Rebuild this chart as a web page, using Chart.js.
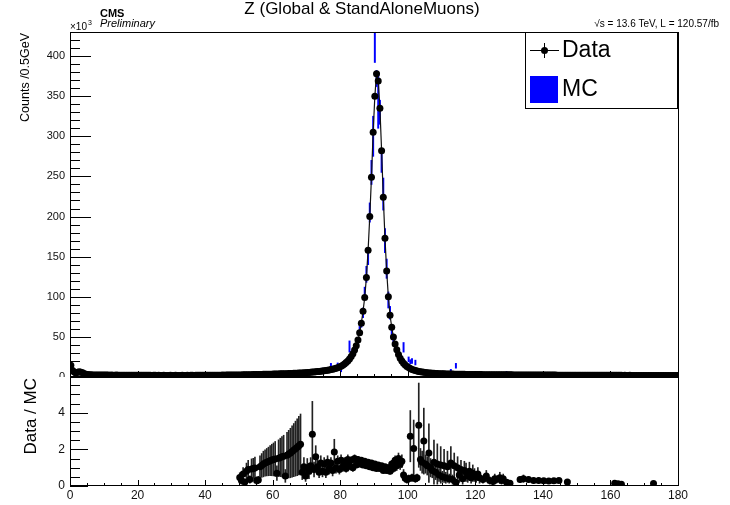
<!DOCTYPE html>
<html>
<head>
  <meta charset="UTF-8" />
  <title>Z (Global &amp; StandAloneMuons)</title>
  <script src="https://cdn.jsdelivr.net/npm/chart.js"></script>
  <style>
    body {
      margin: 0;
      background: #fff;
    }

    #wrap {
      position: relative;
      width: 730px;
      height: 505px;
      overflow: hidden;
    }

    canvas {
      position: absolute;
      left: 0;
    }

    #top { top: 0; }
    #bot { top: 377px; background: #fff; }
  </style>
</head>
<body>

  <div id="wrap">
    <canvas id="top" width="730" height="380"></canvas>
    <canvas id="bot" width="730" height="128"></canvas>
  </div>

  <script>
    // dimuon invariant mass, 0.5 GeV bins from 0 to 180, counts in 10^3
    const binWidth = 0.5;
    const counts = [
      14.5, 8.0, 6.2, 5.0, 5.8, 6.5, 6.0, 5.4, 4.0, 3.4, 3.0, 2.8, 2.7, 2.6, 2.6, 2.5, 2.5, 2.5, 2.4, 2.4,
      2.4, 2.5, 2.4, 2.3, 2.4, 2.3, 2.3, 2.4, 2.3, 2.3, 2.2, 2.3, 2.2, 2.2, 2.3, 2.2, 2.2, 2.1, 2.2, 2.2,
      2.2, 2.1, 2.2, 2.1, 2.1, 2.2, 2.1, 2.1, 2.0, 2.1, 2.1, 2.0, 2.1, 2.0, 2.0, 2.1, 2.0, 2.0, 2.0, 2.1,
      2.0, 2.0, 2.1, 2.0, 2.0, 2.0, 2.1, 2.0, 2.0, 2.1, 2.0, 2.1, 2.1, 2.0, 2.1, 2.1, 2.1, 2.2, 2.1, 2.1,
      2.2, 2.1, 2.2, 2.2, 2.2, 2.3, 2.2, 2.3, 2.3, 2.3, 2.4, 2.3, 2.4, 2.4, 2.5, 2.4, 2.5, 2.5, 2.6, 2.6,
      2.6, 2.6, 2.7, 2.7, 2.8, 2.8, 2.9, 2.9, 3.0, 3.0, 3.1, 3.1, 3.2, 3.2, 3.3, 3.3, 3.4, 3.4, 3.5, 3.5,
      3.6, 3.7, 3.7, 3.8, 3.9, 4.0, 4.0, 4.1, 4.2, 4.3, 4.4, 4.5, 4.6, 4.7, 4.8, 4.9, 5.0, 5.1, 5.3, 5.4,
      5.6, 5.7, 5.9, 6.1, 6.3, 6.5, 6.7, 6.9, 7.2, 7.5, 7.8, 8.1, 8.4, 8.8, 9.2, 9.7, 10.2, 10.8, 11.5, 12.4,
      13.5, 14.8, 16.3, 18.0, 20.0, 22.5, 25.5, 29.0, 33.5, 39.0, 46.0, 55.0, 67.0, 82.0, 99.0, 124, 158, 200, 249, 305,
      350, 378, 369, 335, 282, 224, 173, 132, 100, 77, 62, 50, 41, 34, 28, 23.5, 20, 17.2, 15, 13.2,
      11.7, 10.5, 9.5, 8.7, 8.0, 7.4, 6.9, 6.5, 6.1, 5.8, 5.5, 5.3, 5.1, 4.9, 4.7, 4.6, 4.4, 4.3, 4.2, 4.1,
      4.0, 3.9, 3.8, 3.8, 3.7, 3.6, 3.6, 3.5, 3.5, 3.4, 3.4, 3.3, 3.3, 3.3, 3.2, 3.2, 3.2, 3.1, 3.1, 3.1,
      3.0, 3.0, 3.0, 3.0, 2.9, 2.9, 2.9, 2.9, 2.9, 2.8, 2.8, 2.8, 2.8, 2.8, 2.8, 2.7, 2.7, 2.7, 2.7, 2.7,
      2.7, 2.7, 2.6, 2.6, 2.6, 2.6, 2.6, 2.6, 2.6, 2.5, 2.5, 2.5, 2.5, 2.5, 2.5, 2.5, 2.5, 2.5, 2.4, 2.4,
      2.4, 2.4, 2.4, 2.4, 2.4, 2.4, 2.4, 2.4, 2.3, 2.3, 2.3, 2.3, 2.3, 2.3, 2.3, 2.3, 2.3, 2.3, 2.3, 2.3,
      2.3, 2.2, 2.2, 2.2, 2.2, 2.2, 2.2, 2.2, 2.2, 2.2, 2.2, 2.2, 2.2, 2.2, 2.1, 2.1, 2.1, 2.1, 2.1, 2.1,
      2.1, 2.1, 2.1, 2.1, 2.1, 2.1, 2.1, 2.0, 2.1, 2.0, 2.0, 2.1, 2.0, 2.0, 2.0, 2.0, 2.0, 2.0, 2.0, 2.0,
      2.0, 2.0, 1.9, 2.0, 1.9, 2.0, 1.9, 1.9, 1.9, 1.9, 1.9, 1.9, 1.9, 1.9, 1.9, 1.8, 1.9, 1.8, 1.8, 1.8
    ];
    const mass = counts.map((_, i) => (i + 0.5) * binWidth);

    // MC prediction (bins where it stands out from the data)
    const mcMass = [71.25, 74.75, 77.25, 79.25, 80.25, 82.75, 84.25, 85.25, 85.75, 86.25, 86.75, 87.25, 87.75,
      88.25, 88.75, 89.25, 89.75, 90.25, 90.75, 91.25, 91.75, 92.25, 92.75, 93.25, 93.75, 94.25, 94.75,
      95.25, 95.75, 96.25, 97.25, 98.75, 99.75, 100.25, 100.75, 101.25, 102.25, 104.75, 112.75, 114.25, 129.25];
    const mcCounts = [8.0, 9.5, 14.5, 15.0, 8.5, 38, 33, 44, 58, 66, 80, 104, 128,
      150, 205, 255, 300, 412, 372, 345, 330, 267, 228, 170, 135, 96, 80,
      58, 47, 38, 30, 37, 14, 22, 19, 20, 18, 7, 8, 14, 6];
    const mcErr = [1.5, 1.5, 2.5, 2.5, 2.0, 7, 3, 4, 5, 4, 6, 8, 10,
      10, 12, 15, 25, 20, 10, 35, 15, 12, 20, 15, 12, 10, 8,
      6, 5, 4, 4, 6, 2, 3, 2.5, 3, 3, 1.5, 1.5, 3, 1];

    // Data / MC
    const ratioMass = [50.25, 50.75, 51.25, 51.75, 52.25, 52.75, 53.25, 53.75, 54.25, 54.75, 55.25, 55.75,
      56.25, 56.75, 57.25, 57.75, 58.25, 58.75, 59.25, 59.75, 60.25, 60.75, 61.25, 61.75, 62.25, 62.75,
      63.25, 63.75, 64.25, 64.75, 65.25, 65.75, 66.25, 66.75, 67.25, 67.75, 68.25, 68.75, 69.25, 69.75,
      70.25, 70.75, 71.25, 71.75, 72.25, 72.75, 73.25, 73.75, 74.25, 74.75, 75.25, 75.75, 76.25, 76.75,
      77.25, 77.75, 78.25, 78.75, 79.25, 79.75, 80.25, 80.75, 81.25, 81.75, 82.25, 82.75, 83.25, 83.75,
      84.25, 84.75, 85.25, 85.75, 86.25, 86.75, 87.25, 87.75, 88.25, 88.75, 89.25, 89.75, 90.25, 90.75,
      91.25, 91.75, 92.25, 92.75, 93.25, 93.75, 94.25, 94.75, 95.25, 95.75, 96.25, 96.75, 97.25, 97.75,
      98.25, 98.75, 99.25, 99.75, 100.25, 100.75, 101.25, 101.75, 102.25, 102.75, 103.25, 103.75, 104.25,
      104.75, 105.25, 105.75, 106.25, 106.75, 107.25, 107.75, 108.25, 108.75, 109.25, 109.75, 110.25,
      110.75, 111.25, 111.75, 112.25, 112.75, 113.25, 113.75, 114.25, 114.75, 115.25, 115.75, 116.25,
      116.75, 117.25, 117.75, 118.25, 118.75, 119.25, 119.75, 120.25, 120.75, 121.25, 122.25, 123.25,
      124.25, 125.25, 125.75, 126.25, 127.25, 127.75, 128.25, 129.25, 130.25, 133.25, 134.25, 135.75,
      137.25, 138.75, 140.25, 141.75, 143.25, 144.75, 147.25, 161.25, 162.25, 163.25, 172.75];
    const ratioVal = [0.47, 0.30, 0.65, 0.22, 0.80, 0.90, 0.35, 0.93, 0.96, 0.98, 0.30, 0.33,
      1.05, 1.12, 1.20, 1.26, 1.30, 1.34, 1.38, 1.42, 1.45, 1.48, 0.70, 1.52, 1.56, 1.60,
      1.62, 0.55, 1.68, 1.74, 1.80, 1.88, 1.96, 2.04, 2.12, 2.20, 2.28, 0.75, 1.05, 0.55,
      1.00, 0.80, 1.10, 2.82, 0.90, 1.60, 1.05, 0.75, 1.25, 0.80, 1.20, 0.75, 1.30, 0.95,
      1.25, 0.85, 1.85, 1.00, 1.35, 0.90, 1.40, 1.05, 1.30, 0.95, 1.45, 1.10, 1.40, 1.00,
      1.50, 1.15, 1.45, 1.20, 1.40, 1.15, 1.35, 1.10, 1.30, 1.05, 1.25, 1.00, 1.20, 0.95,
      1.15, 0.95, 1.10, 0.85, 1.05, 0.85, 1.00, 0.80, 1.20, 0.95, 1.40, 1.10, 1.50, 1.20,
      1.35, 0.60, 0.42, 0.35, 0.40, 2.72, 0.45, 2.05, 0.40, 0.45, 3.32, 1.45, 1.30,
      2.45, 1.20, 1.10, 1.80, 1.00, 0.85, 1.30, 0.75, 1.20, 0.60, 1.15, 0.50,
      1.10, 0.45, 1.05, 0.40, 1.25, 0.35, 1.10, 0.20, 1.00, 0.60, 0.90, 0.40,
      0.85, 0.75, 0.55, 0.80, 0.45, 0.70, 0.60, 0.50, 0.65, 0.45, 0.35, 0.55,
      0.30, 0.25, 0.40, 0.35, 0.45, 0.30, 0.40, 0.20, 0.15, 0.35, 0.40, 0.35,
      0.30, 0.30, 0.28, 0.27, 0.28, 0.30, 0.22, 0.15, 0.12, 0.10, 0.13];
    const ratioErr = [0.25, 0.20, 0.35, 0.15, 0.45, 0.50, 0.20, 0.55, 0.55, 0.60, 0.20, 0.20,
      0.60, 0.65, 0.70, 0.72, 0.75, 0.78, 0.82, 0.86, 0.90, 0.95, 0.40, 1.00, 1.05, 1.10,
      1.15, 0.35, 1.25, 1.30, 1.35, 1.40, 1.45, 1.50, 1.55, 1.60, 1.65, 0.40, 0.50, 0.30,
      0.50, 0.40, 0.45, 1.80, 0.40, 0.60, 0.40, 0.30, 0.40, 0.30, 0.35, 0.30, 0.35, 0.30,
      0.30, 0.30, 0.70, 0.30, 0.30, 0.25, 0.30, 0.25, 0.25, 0.20, 0.25, 0.20, 0.20, 0.20,
      0.20, 0.15, 0.15, 0.15, 0.12, 0.10, 0.10, 0.10, 0.10, 0.08, 0.08, 0.08, 0.08, 0.08,
      0.08, 0.08, 0.10, 0.10, 0.10, 0.12, 0.15, 0.15, 0.20, 0.20, 0.25, 0.25, 0.30, 0.30,
      0.35, 0.30, 0.20, 0.20, 0.20, 1.40, 0.20, 1.55, 0.20, 0.20, 2.30, 0.60, 0.60,
      1.80, 0.50, 0.50, 1.60, 0.50, 0.40, 1.20, 0.40, 1.10, 0.35, 1.00, 0.30,
      0.90, 0.30, 0.85, 0.25, 0.90, 0.25, 0.70, 0.15, 0.60, 0.40, 0.50, 0.30,
      0.50, 0.50, 0.35, 0.50, 0.30, 0.45, 0.35, 0.30, 0.35, 0.30, 0.20, 0.30,
      0.20, 0.15, 0.25, 0.20, 0.30, 0.20, 0.25, 0.15, 0.10, 0.15, 0.20, 0.15,
      0.15, 0.15, 0.12, 0.12, 0.12, 0.12, 0.10, 0.08, 0.08, 0.06, 0.08];

    const FONT = "'Liberation Sans', Arial, sans-serif";

    // ROOT-like frame: box around the plot area, ticks drawn inward
    function frameTicks(yStep, yMajorEvery, yMajorLen) {
      return {
        id: 'frameTicks',
        afterDatasetsDraw(chart) {
          const { ctx, chartArea: a, scales } = chart;
          ctx.save();
          ctx.strokeStyle = '#000';
          ctx.lineWidth = 1;
          ctx.beginPath();
          const ys = scales.y;
          for (let i = 0; i * yStep <= ys.max + 1e-9; i++) {
            const py = Math.round(ys.getPixelForValue(i * yStep)) + 0.5;
            const len = i % yMajorEvery === 0 ? yMajorLen : 10;
            ctx.moveTo(a.left, py);
            ctx.lineTo(a.left + len, py);
          }
          const xs = scales.x;
          for (let i = 0; i * 5 <= xs.max; i++) {
            const px = Math.round(xs.getPixelForValue(i * 5)) + 0.5;
            const len = i % 4 === 0 ? 6 : 3;
            ctx.moveTo(px, a.bottom);
            ctx.lineTo(px, a.bottom - len);
          }
          ctx.stroke();
          ctx.strokeRect(Math.round(a.left) + 0.5, Math.round(a.top) + 0.5,
            Math.round(a.right - a.left), Math.round(a.bottom - a.top) - 1);
          ctx.restore();
        }
      };
    }

    // fixed axis box, no extra room for the end labels
    function fixWidth(s) {
      s.width = 70;
      s.paddingTop = 0;
      s.paddingBottom = 0;
    }

    function rotatedText(ctx, text, x, y, font) {
      ctx.save();
      ctx.translate(x, y);
      ctx.rotate(-Math.PI / 2);
      ctx.font = font;
      ctx.textAlign = 'right';
      ctx.textBaseline = 'alphabetic';
      ctx.fillText(text, 0, 0);
      ctx.restore();
    }

    const topLabels = {
      id: 'topLabels',
      afterDraw(chart) {
        const { ctx, chartArea: a } = chart;
        ctx.save();
        ctx.fillStyle = '#000';
        ctx.textBaseline = 'alphabetic';

        ctx.font = '17px ' + FONT;
        ctx.textAlign = 'center';
        ctx.fillText('Z (Global & StandAloneMuons)', 362, 14);

        ctx.textAlign = 'left';
        ctx.font = 'bold 11px ' + FONT;
        ctx.fillText('CMS', 100, 17);
        ctx.font = 'italic 11px ' + FONT;
        ctx.fillText('Preliminary', 100, 27);

        ctx.font = '10px ' + FONT;
        ctx.fillText('\u00d710', 70, 30);
        ctx.font = '7px ' + FONT;
        ctx.fillText('3', 88, 25);

        ctx.font = '10px ' + FONT;
        ctx.textAlign = 'right';
        ctx.fillText('\u221as = 13.6 TeV, L = 120.57/fb', 719, 27);

        rotatedText(ctx, 'Counts /0.5GeV', 29, 33, '12.5px ' + FONT);

        // legend box
        const lx = 525, ly = Math.round(a.top);
        ctx.fillStyle = '#fff';
        ctx.fillRect(lx, ly, 152, 76);
        ctx.strokeStyle = '#000';
        ctx.lineWidth = 1;
        ctx.strokeRect(lx + 0.5, ly + 0.5, 152, 76);

        ctx.beginPath();
        ctx.moveTo(530, ly + 18.5);
        ctx.lineTo(559, ly + 18.5);
        ctx.moveTo(544.5, ly + 11);
        ctx.lineTo(544.5, ly + 26);
        ctx.stroke();
        ctx.fillStyle = '#000';
        ctx.beginPath();
        ctx.arc(544.5, ly + 18.5, 3.5, 0, Math.PI * 2);
        ctx.fill();

        ctx.fillStyle = '#0000ff';
        ctx.fillRect(530, ly + 44, 28, 27);

        ctx.fillStyle = '#000';
        ctx.font = '23px ' + FONT;
        ctx.textAlign = 'left';
        ctx.textBaseline = 'middle';
        ctx.fillText('Data', 562, ly + 19);
        ctx.fillText('MC', 562, ly + 58);
        ctx.restore();
      }
    };

    const botLabels = {
      id: 'botLabels',
      afterDraw(chart) {
        rotatedText(chart.ctx, 'Data / MC', 36, 1, '17px ' + FONT);
      }
    };

    const tickFont = { family: FONT, size: 11 };

    new Chart(document.getElementById('top'), {
      type: 'scatter',
      data: {
        datasets: [
          {
            type: 'line',
            label: 'Data',
            data: mass.map((m, i) => ({ x: m, y: counts[i] })),
            borderColor: '#111',
            borderWidth: 1.2,
            pointRadius: 3.5,
            pointBackgroundColor: '#000',
            pointBorderColor: '#000',
            pointBorderWidth: 0,
            tension: 0,
            clip: 0,
            order: 1
          },
          {
            type: 'bar',
            label: 'MC',
            data: mcMass.map((m, i) => ({ x: m, y: [mcCounts[i] - mcErr[i], mcCounts[i] + mcErr[i]] })),
            backgroundColor: '#0000ff',
            barThickness: 1.3,
            grouped: false,
            clip: 0,
            order: 2
          }
        ]
      },
      options: {
        responsive: false,
        animation: false,
        layout: { autoPadding: false, padding: { top: 32, right: 52, bottom: 3, left: 0 } },
        plugins: { legend: { display: false }, tooltip: { enabled: false } },
        scales: {
          x: {
            type: 'linear', min: 0, max: 180, offset: false, display: false,
            grid: { offset: false }
          },
          y: {
            type: 'linear', min: 0, max: 430,
            grid: { display: false, drawTicks: false },
            border: { display: false },
            afterFit: fixWidth,
            ticks: {
              stepSize: 10, autoSkip: false, padding: 5, color: '#111', font: tickFont,
              callback: v => (v % 50 === 0 ? String(v) : '')
            }
          }
        }
      },
      plugins: [frameTicks(10, 5, 21), topLabels]
    });

    new Chart(document.getElementById('bot'), {
      type: 'scatter',
      data: {
        datasets: [
          {
            type: 'scatter',
            label: 'Data / MC',
            data: ratioMass.map((m, i) => ({ x: m, y: ratioVal[i] })),
            pointRadius: 3.5,
            pointBackgroundColor: '#000',
            pointBorderColor: '#000',
            pointBorderWidth: 0,
            clip: 0,
            order: 1
          },
          {
            type: 'bar',
            label: 'err',
            data: ratioMass.map((m, i) => ({ x: m, y: [Math.max(0, ratioVal[i] - ratioErr[i]), ratioVal[i] + ratioErr[i]] })),
            backgroundColor: '#222',
            barThickness: 1,
            grouped: false,
            clip: 0,
            order: 2
          }
        ]
      },
      options: {
        responsive: false,
        animation: false,
        layout: { autoPadding: false, padding: { top: 0, right: 52, bottom: 0, left: 0 } },
        plugins: { legend: { display: false }, tooltip: { enabled: false } },
        scales: {
          x: {
            type: 'linear', min: 0, max: 180, offset: false,
            grid: { display: false, drawTicks: false, offset: false },
            border: { display: false },
            afterFit(s) { s.height = 19; s.paddingLeft = 0; s.paddingRight = 0; },
            ticks: {
              stepSize: 5, autoSkip: false, maxRotation: 0, padding: 2, color: '#111',
              font: { family: FONT, size: 12 },
              callback: v => (v % 20 === 0 ? String(v) : '')
            }
          },
          y: {
            type: 'linear', min: 0, max: 5.95,
            grid: { display: false, drawTicks: false },
            border: { display: false },
            afterFit: fixWidth,
            ticks: {
              stepSize: 0.5, autoSkip: false, padding: 5, color: '#111',
              font: { family: FONT, size: 12 },
              callback: v => (Math.abs(v % 2) < 1e-6 ? String(v) : '')
            }
          }
        }
      },
      plugins: [frameTicks(0.5, 4, 18), botLabels]
    });
  </script>
</body>
</html>
